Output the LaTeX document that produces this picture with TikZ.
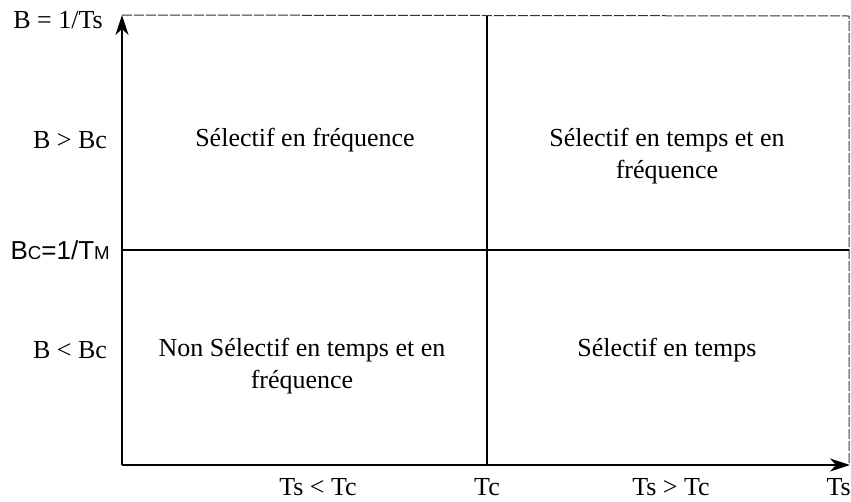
\documentclass[tikz,border=0pt]{standalone}
\usepackage{fontspec}
\setmainfont{Liberation Serif}
\newfontfamily\arialf{Liberation Sans}
\usetikzlibrary{arrows.meta}
\begin{document}
\begin{tikzpicture}[x=1pt,y=-1pt,
  axis/.style={line width=1.6pt,-{Stealth[length=20pt,width=13pt,inset=6pt]}},
  divider/.style={line width=1.6pt},
  border/.style={line width=1pt,dash pattern=on 10pt off 2pt,black!80},
  lbl/.style={inner sep=0pt,font=\fontsize{26}{32}\selectfont},
  cell/.style={inner sep=0pt,align=center,font=\fontsize{26}{32}\selectfont}]
\useasboundingbox (0,0) rectangle (851,501);
\coordinate (O) at (122,465);
\coordinate (Ytop) at (122,15);
\coordinate (Xend) at (850,465);
\coordinate (TR) at (849,16);
\coordinate (Mtop) at (487,16);
\coordinate (Mbot) at (487,465);
\coordinate (Hl) at (122,250);
\coordinate (Hr) at (849,250);
\draw[border] (Ytop) -- (TR) -- (849,463);
\draw[divider] (Mtop) -- (Mbot);
\draw[divider] (Hl) -- (Hr);
\draw[axis] (O) -- (Ytop);
\draw[axis] (O) -- (Xend);
\node[lbl,anchor=east] (b1) at (103,20) {B = 1/Ts};
\node[lbl] (b2) at (70,140) {B > Bc};
\node[lbl,anchor=east] (b3) at (110,250) {\arialf B\fontsize{18.7}{20}\selectfont C\fontsize{26}{30}\selectfont=1/T\fontsize{18.7}{20}\selectfont M};
\node[lbl] (b4) at (70,350) {B < Bc};
\node[cell] (c1) at (305,140) {Sélectif en fréquence};
\node[cell] (c2) at (667,156) {Sélectif en temps et en\\fréquence};
\node[cell] (c3) at (302,366) {Non Sélectif en temps et en\\fréquence};
\node[cell] (c4) at (667,350) {Sélectif en temps};
\node[lbl] (t1) at (318,487) {Ts < Tc};
\node[lbl] (t2) at (487,487) {Tc};
\node[lbl] (t3) at (671,487) {Ts > Tc};
\node[lbl,anchor=east] (t4) at (851,487) {Ts};
\end{tikzpicture}
\end{document}
